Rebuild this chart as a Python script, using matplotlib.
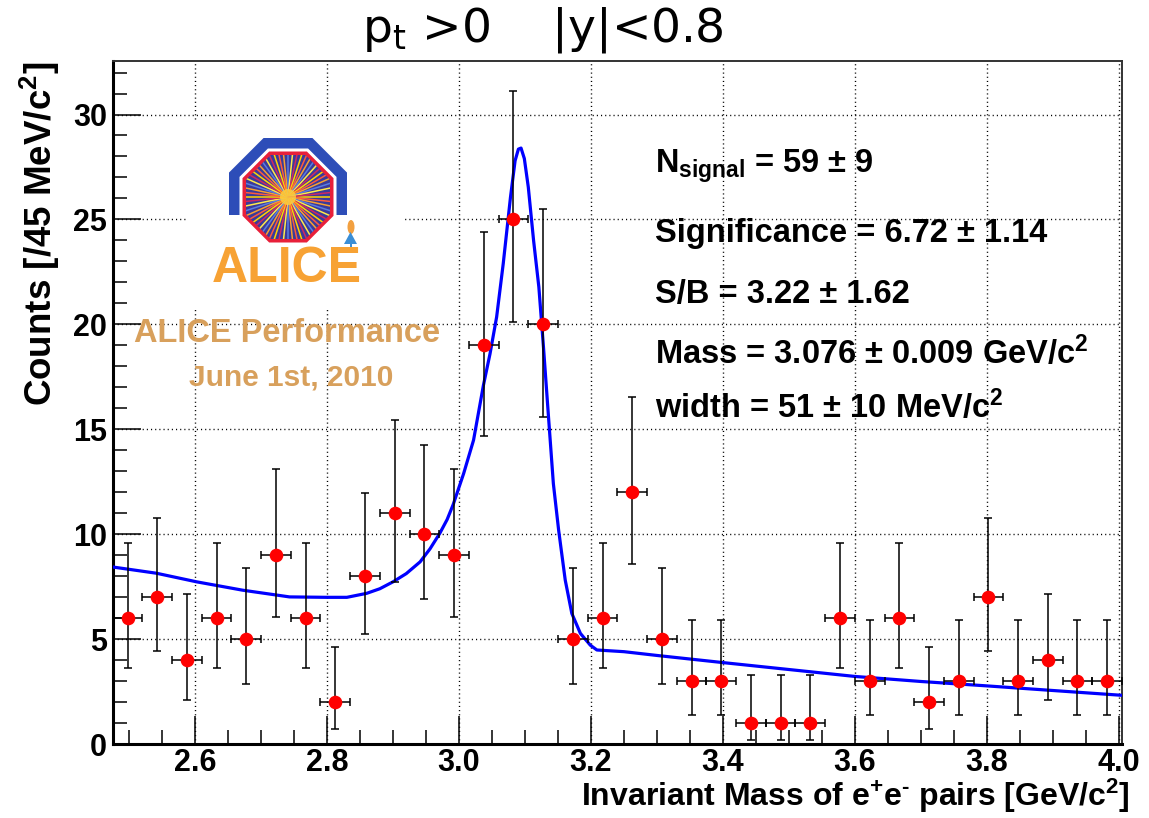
import numpy as np
import matplotlib
matplotlib.use('Agg')
import matplotlib.pyplot as plt
from matplotlib.patches import Polygon, Rectangle, Ellipse
from matplotlib.ticker import MultipleLocator

# ---------------- data ----------------
bin_centers = [2.4975, 2.5425, 2.5875, 2.6325, 2.6775, 2.7225, 2.7675, 2.8125,
               2.8575, 2.9025, 2.9475, 2.9925, 3.0375, 3.0825, 3.1275, 3.1725,
               3.2175, 3.2625, 3.3075, 3.3525, 3.3975, 3.4425, 3.4875, 3.5325,
               3.5775, 3.6225, 3.6675, 3.7125, 3.7575, 3.8025, 3.8475, 3.8925,
               3.9375, 3.9825]
counts = [6, 7, 4, 6, 5, 9, 6, 2, 8, 11, 10, 9, 19, 25, 20, 5, 6, 12, 5, 3, 3,
          1, 1, 1, 6, 3, 6, 2, 3, 7, 3, 4, 3, 3]
err_lower_bound = [3.62, 4.42, 2.09, 3.62, 2.84, 6.06, 3.62, 0.71, 5.23, 7.74, 6.89,
                   6.06, 14.7, 20.1, 15.6, 2.84, 3.62, 8.59, 2.84, 1.37, 1.37, 0.17,
                   0.17, 0.17, 3.62, 1.37, 3.62, 0.71, 1.37, 4.42, 1.37, 2.09, 1.37, 1.37]
err_upper_bound = [9.58, 10.77, 7.16, 9.58, 8.38, 13.11, 9.58, 4.64, 11.95, 15.42, 14.27,
                   13.11, 24.4, 31.1, 25.5, 8.38, 9.58, 16.56, 8.38, 5.92, 5.92, 3.30,
                   3.30, 3.30, 9.58, 5.92, 9.58, 4.64, 5.92, 10.77, 5.92, 7.16, 5.92, 5.92]
bin_half_width = 0.0225

fit_x = [2.474, 2.541, 2.602, 2.672, 2.743, 2.799, 2.830, 2.860, 2.880, 2.900,
         2.920, 2.941, 2.956, 2.971, 2.982, 2.991, 3.007, 3.022, 3.037, 3.047,
         3.057, 3.067, 3.078, 3.085, 3.090, 3.094, 3.099, 3.105, 3.113, 3.121,
         3.128, 3.136, 3.143, 3.151, 3.161, 3.171, 3.184, 3.199, 3.209, 3.25,
         3.30, 3.40, 3.50, 3.60, 3.70, 3.80, 3.90, 4.005]
fit_y = [8.44, 8.14, 7.73, 7.33, 7.01, 6.99, 6.99, 7.18, 7.40, 7.73,
         8.12, 8.68, 9.30, 10.05, 10.7, 11.4, 12.89, 14.48, 17.1, 18.6,
         20.35, 22.89, 26.06, 27.8, 28.35, 28.4, 27.9, 26.54, 24.0, 21.78,
         18.92, 15.43, 12.41, 10.19, 7.81, 6.22, 5.27, 4.71, 4.48, 4.40,
         4.22, 3.88, 3.55, 3.22, 2.98, 2.77, 2.55, 2.32]

x_ticks = [2.6, 2.8, 3.0, 3.2, 3.4, 3.6, 3.8, 4.0]
x_tick_labels = ['2.6', '2.8', '3.0', '3.2', '3.4', '3.6', '3.8', '4.0']
y_ticks = [0, 5, 10, 15, 20, 25, 30]

stats_lines = [r'N$_{\mathbf{signal}}$ = 59 ± 9',
               'Significance = 6.72 ± 1.14',
               'S/B = 3.22 ± 1.62',
               r'Mass = 3.076 ± 0.009 GeV/c$^{\mathbf{2}}$',
               r'width = 51 ± 10 MeV/c$^{\mathbf{2}}$']

# ---------------- style ----------------
plt.rcParams['font.family'] = ['Liberation Sans', 'DejaVu Sans']
plt.rcParams['mathtext.fontset'] = 'custom'
plt.rcParams['mathtext.rm'] = 'Liberation Sans:bold'
plt.rcParams['mathtext.bf'] = 'Liberation Sans:bold'
plt.rcParams['mathtext.it'] = 'Liberation Sans:bold'

W, H = 1149, 818
fig = plt.figure(figsize=(W / 100, H / 100), dpi=100)
L, R, T, B = 112.7, 1122, 61, 744
ax = fig.add_axes([L / W, 1 - B / H, (R - L) / W, (B - T) / H])

ax.set_xlim(2.475, 4.005)
ax.set_ylim(0, 32.55)

# grid
ax.set_xticks(x_ticks)
ax.set_xticklabels(x_tick_labels)
ax.set_yticks(y_ticks)
ax.xaxis.set_minor_locator(MultipleLocator(0.05))
ax.yaxis.set_minor_locator(MultipleLocator(1))
ax.grid(True, which='major', color='black', linestyle=(0, (0.8, 2.2)), linewidth=1.0)
ax.set_axisbelow(True)

ax.tick_params(axis='both', which='major', direction='in', length=20, width=1.1,
               labelsize=22)
ax.tick_params(axis='x', which='major', pad=3)
ax.tick_params(axis='y', which='major', pad=4)
ax.tick_params(axis='both', which='minor', direction='in', length=10, width=1.1)
for lab in ax.get_xticklabels() + ax.get_yticklabels():
    lab.set_fontweight('bold')
for s in ['left', 'bottom']:
    ax.spines[s].set_linewidth(2.2)
for s in ['top', 'right']:
    ax.spines[s].set_linewidth(1.4)
    ax.spines[s].set_color('#333333')

# fit curve
ax.plot(fit_x, fit_y, color='#0000ff', linewidth=2.3, zorder=3, solid_joinstyle='round')

# data with errors
y = np.array(counts, dtype=float)
yerr = [y - np.array(err_lower_bound), np.array(err_upper_bound) - y]
ax.errorbar(bin_centers, counts, xerr=bin_half_width, yerr=yerr, fmt='none',
            ecolor='black', elinewidth=1.1, capsize=3, capthick=1.1, zorder=4)
ax.plot(bin_centers, counts, 'o', color='#ff0000', markersize=9.8,
        markeredgewidth=0, zorder=5)

# ---------------- overlay (pixel coords) ----------------
ov = fig.add_axes([0, 0, 1, 1], zorder=10)
ov.set_xlim(0, W)
ov.set_ylim(H, 0)
ov.axis('off')

# title
ov.text(543, 30, r'p$_{\mathregular{t}}$ >0    |y|<0.8', ha='center', va='center',
        fontsize=34, family='DejaVu Sans', math_fontfamily='dejavusans',
        fontweight='normal')

# axis titles
ov.text(1130, 806, 'Invariant Mass of e$^{\\mathbf{+}}$e$^{\\mathbf{\u2010}}$ pairs [GeV/c$^{\\mathbf{2}}$]',
        ha='right', va='baseline', fontsize=23, fontweight='bold')
ov.text(40, 62, r'Counts [/45 MeV/c$^{\mathbf{2}}$]', ha='center', va='top',
        rotation=90, fontsize=26.5, fontweight='bold')

# stats box text
baselines = [173, 242, 303, 364, 418]
for txt, yb in zip(stats_lines, baselines):
    ov.text(655, yb, txt, ha='left', va='baseline', fontsize=23.5, fontweight='bold')

# ---------------- ALICE logo ----------------
ov.add_patch(Rectangle((188, 122), 215, 188, facecolor='white', edgecolor='none', zorder=1))

cx, cy = 288, 197


def octagon(apothem):
    r = apothem / np.cos(np.pi / 8)
    ang = np.pi / 8 + np.arange(8) * np.pi / 4
    return np.column_stack([cx + r * np.cos(ang), cy + r * np.sin(ang)])


clip_rect = Rectangle((150, 100), 250, 115, transform=ov.transData)
blue = Polygon(octagon(59), closed=True, facecolor='#2d4db8', edgecolor='none', zorder=2)
ov.add_patch(blue)
blue.set_clip_path(clip_rect)
ov.add_patch(Polygon(octagon(48.5), closed=True, facecolor='white', edgecolor='none', zorder=3))
ov.add_patch(Polygon(octagon(45.5), closed=True, facecolor='#e8203a', edgecolor='none', zorder=4))
inner = Polygon(octagon(42), closed=True, facecolor='#3a3a9a', edgecolor='none', zorder=5)
ov.add_patch(inner)
ray_colors = ['#ffd400', '#ff5a3c', '#f7a030', '#5a7de0', '#ffe94a', '#d02860']
ray_ang = np.linspace(0, 2 * np.pi, 60, endpoint=False)
for k, a in enumerate(ray_ang):
    ln, = ov.plot([cx, cx + 60 * np.cos(a)], [cy, cy + 60 * np.sin(a)],
                  color=ray_colors[k % len(ray_colors)], lw=1.1, zorder=6)
    ln.set_clip_path(inner)
ov.add_patch(Ellipse((cx, cy), 16, 16, facecolor='#ffd23a', edgecolor='none', alpha=0.8, zorder=7))

# small Alice figure
ov.add_patch(Ellipse((351, 227), 7, 14, facecolor='#f2a040', edgecolor='none', zorder=7))
ov.add_patch(Polygon([[344, 244], [357, 244], [350.5, 232]], closed=True,
                     facecolor='#3a8ed6', edgecolor='none', zorder=7))
ov.add_patch(Rectangle((349.5, 244), 2, 6, facecolor='#3a8ed6', edgecolor='none', zorder=7))

ov.text(287, 269, 'ALICE', ha='center', va='center', fontsize=36, fontweight='bold',
        color='#f7a234', zorder=8)
ov.text(287, 333, 'ALICE Performance', ha='center', va='center', fontsize=23.5,
        fontweight='bold', color='#d8a05c', zorder=8)
ov.text(291, 378, 'June 1st, 2010', ha='center', va='center', fontsize=21.5,
        fontweight='bold', color='#d8a05c', zorder=8)

fig.savefig('out.png', dpi=100)
